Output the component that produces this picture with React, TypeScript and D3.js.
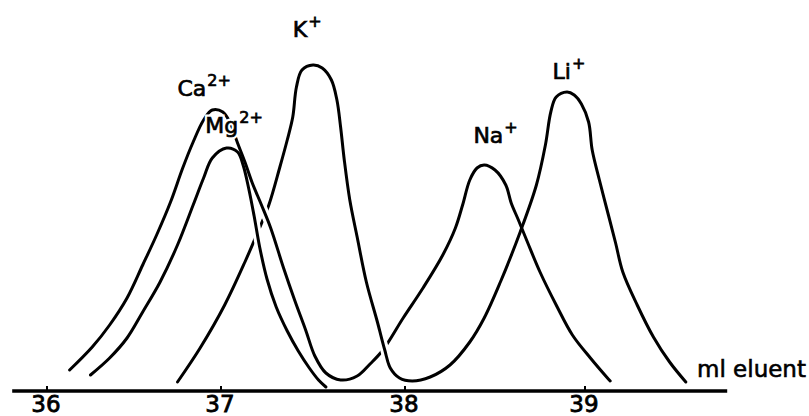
import React, { useEffect, useRef } from "react";
import * as d3 from "d3";

const width = 809
const height = 416

// trace 1: Ca2+ peak running on into the Na+ peak (ml eluent / detector signal)
const caNaVolume = [36.13, 36.26, 36.36, 36.46, 36.55, 36.63, 36.71, 36.78, 36.84, 36.9, 36.95, 37.01, 37.05, 37.09,
  37.13, 37.17, 37.22, 37.27, 37.34, 37.4, 37.46, 37.51, 37.57, 37.65, 37.74, 37.81, 37.88, 37.99, 38.1, 38.21,
  38.28, 38.32, 38.36, 38.4, 38.44, 38.5, 38.56, 38.59, 38.63, 38.68, 38.75, 38.84, 38.93, 39.03, 39.12, 39.14]
const caNaSignal = [2.1, 4.4, 6.6, 9.3, 12.6, 15.6, 18.9, 22.3, 24.9, 27.1, 28.1, 27.9, 26.8, 24.8,
  22.9, 20.8, 18.6, 16.3, 12.3, 9.1, 6.1, 3.5, 1.8, 1.1, 1.5, 2.7, 4.1, 7.3, 10.3, 13.6,
  16.3, 18.6, 21.1, 22.3, 22.6, 22.1, 20.6, 18.8, 17.1, 14.9, 11.9, 8.6, 5.6, 3.3, 1.4, 1.0]

// trace 2: Mg2+ peak
const mgVolume = [36.25, 36.36, 36.46, 36.55, 36.65, 36.75, 36.84, 36.9, 36.95, 37.03, 37.09, 37.12, 37.15, 37.18,
  37.21, 37.25, 37.3, 37.36, 37.42, 37.48, 37.53, 37.57]
const mgSignal = [1.6, 3.3, 5.3, 7.9, 10.9, 14.6, 18.6, 21.3, 23.3, 24.3, 23.9, 22.6, 20.3, 17.5,
  14.4, 11.2, 8.4, 6.0, 4.0, 2.3, 1.1, 0.4]

// trace 3: K+ peak running on into the Li+ peak
const kLiVolume = [36.75, 36.88, 37.02, 37.13, 37.2, 37.26, 37.32, 37.36, 37.39, 37.41, 37.44, 37.5, 37.55, 37.6,
  37.63, 37.65, 37.67, 37.7, 37.74, 37.79, 37.85, 37.89, 37.92, 37.97, 38.04, 38.14, 38.25, 38.36, 38.44, 38.53,
  38.64, 38.73, 38.78, 38.81, 38.84, 38.9, 38.94, 38.98, 39.02, 39.04, 39.08, 39.13, 39.17, 39.21, 39.29, 39.38,
  39.47, 39.56]
const kLiSignal = [0.9, 4.3, 8.6, 12.9, 15.9, 18.6, 22.4, 25.1, 27.4, 30.4, 32.1, 32.6, 32.3, 31.1,
  29.1, 26.4, 23.1, 19.1, 15.4, 10.9, 6.9, 4.1, 2.3, 1.3, 1.0, 1.4, 2.6, 4.9, 7.3, 10.9,
  15.9, 20.6, 24.6, 27.9, 29.4, 29.9, 29.6, 28.7, 26.9, 24.1, 21.1, 17.6, 14.8, 11.9, 8.6, 5.4,
  2.9, 0.9]

const tickValues = [36, 37, 38, 39]
const axisExtent = [35.8, 39.79]
const axisTitle = "ml eluent"

const ionNames = ["Ca", "Mg", "K", "Na", "Li"]
const ionCharges = ["2+", "2+", "+", "+", "+"]
// where each ion name starts (ml, signal)
const ionVolume = [36.75, 36.91, 37.39, 38.38, 38.82]
const ionSignal = [29.5, 25.8, 35.4, 24.8, 31.2]

export default function App() {
  const ref = useRef<SVGSVGElement>(null)

  useEffect(() => {
    const svg = d3.select(ref.current)
    svg.selectAll('*').remove()

    // the drawn axis is a little uneven, so each whole ml gets its own position
    const x = d3.scaleLinear().domain(tickValues).range([47, 221, 405, 585])
    const y = d3.scaleLinear().domain([0, 35]).range([391, 41])

    const line = d3.line<[number, number]>()
      .x(d => x(d[0]))
      .y(d => y(d[1]))
      .curve(d3.curveCatmullRom.alpha(0.5))

    const caNa = d3.zip(caNaVolume, caNaSignal) as [number, number][]
    const mg = d3.zip(mgVolume, mgSignal) as [number, number][]
    const kLi = d3.zip(kLiVolume, kLiSignal) as [number, number][]

    // clip boxes where one pen line was lifted over another
    const defs = svg.append('defs')
    const clipBox = (id: string, v0: number, v1: number, s0: number, s1: number) => {
      defs.append('clipPath').attr('id', id).append('rect')
        .attr('x', x(v0)).attr('y', y(s1))
        .attr('width', x(v1) - x(v0)).attr('height', y(s0) - y(s1))
    }
    clipBox('upperCross', 37.1, 37.39, 12.6, 21.1)
    clipBox('lowerCross', 37.83, 37.95, 2.5, 6.1)

    const g = svg.append('g').attr('fill', 'none').attr('stroke-linecap', 'round').attr('stroke-linejoin', 'round')

    g.append('path').attr('d', line(kLi)).attr('stroke', '#000').attr('stroke-width', 3)

    // white halo breaks the K+ line where Ca/Mg cross it
    const upper = g.append('g').attr('clip-path', 'url(#upperCross)')
    upper.append('path').attr('d', line(caNa)).attr('stroke', '#fff').attr('stroke-width', 9)
    upper.append('path').attr('d', line(mg)).attr('stroke', '#fff').attr('stroke-width', 9)

    g.append('path').attr('d', line(mg)).attr('stroke', '#000').attr('stroke-width', 3)
    g.append('path').attr('d', line(caNa)).attr('stroke', '#000').attr('stroke-width', 3)

    // and here the Ca/Na line is the one broken by K+
    const lower = g.append('g').attr('clip-path', 'url(#lowerCross)')
    lower.append('path').attr('d', line(kLi)).attr('stroke', '#fff').attr('stroke-width', 9)
    lower.append('path').attr('d', line(kLi)).attr('stroke', '#000').attr('stroke-width', 3)

    // axis
    const axis = svg.append('g')
    axis.append('line')
      .attr('x1', x(axisExtent[0])).attr('x2', x(axisExtent[1]))
      .attr('y1', y(0)).attr('y2', y(0))
      .attr('stroke', '#000').attr('stroke-width', 3.5)
    axis.selectAll('.tick').data(tickValues).join('line')
      .attr('class', 'tick')
      .attr('x1', d => x(d)).attr('x2', d => x(d))
      .attr('y1', y(0)).attr('y2', y(0) - 5)
      .attr('stroke', '#000').attr('stroke-width', 2)
    axis.selectAll('.tick-label').data(tickValues).join('text')
      .attr('class', 'tick-label')
      .attr('x', d => x(d) - 1).attr('y', y(0) + 21)
      .attr('text-anchor', 'middle')
      .attr('font-family', 'DejaVu Sans').attr('font-size', 23)
      .attr('stroke', '#000').attr('stroke-width', 0.8)
      .text(d => d)
    axis.append('text')
      .attr('x', 697).attr('y', y(1.4))
      .attr('font-family', 'DejaVu Sans').attr('font-size', 23)
      .attr('stroke', '#000').attr('stroke-width', 0.6)
      .text(axisTitle)

    // ion labels: a white copy underneath breaks the Ca line under "Mg"
    const labels = svg.append('g').attr('font-family', 'DejaVu Sans')
    const addLabel = (i: number, halo: boolean) => {
      const t = labels.append('text')
        .attr('x', x(ionVolume[i])).attr('y', y(ionSignal[i]))
        .attr('font-size', 22)
        .attr('fill', halo ? '#fff' : '#000')
        .attr('stroke', halo ? '#fff' : '#000')
        .attr('stroke-width', halo ? 5 : 0.7)
      t.append('tspan').text(ionNames[i])
      t.append('tspan').attr('dx', 1).attr('dy', -10).attr('font-size', 16).text(ionCharges[i])
    }
    ionNames.forEach((_, i) => addLabel(i, true))
    ionNames.forEach((_, i) => addLabel(i, false))
  }, [])

  return (
    <svg
      ref={ref}
      width={width}
      height={height}
      style={{ position: 'absolute', left: 0, top: 0, background: '#fff' }}
    />
  )
}
